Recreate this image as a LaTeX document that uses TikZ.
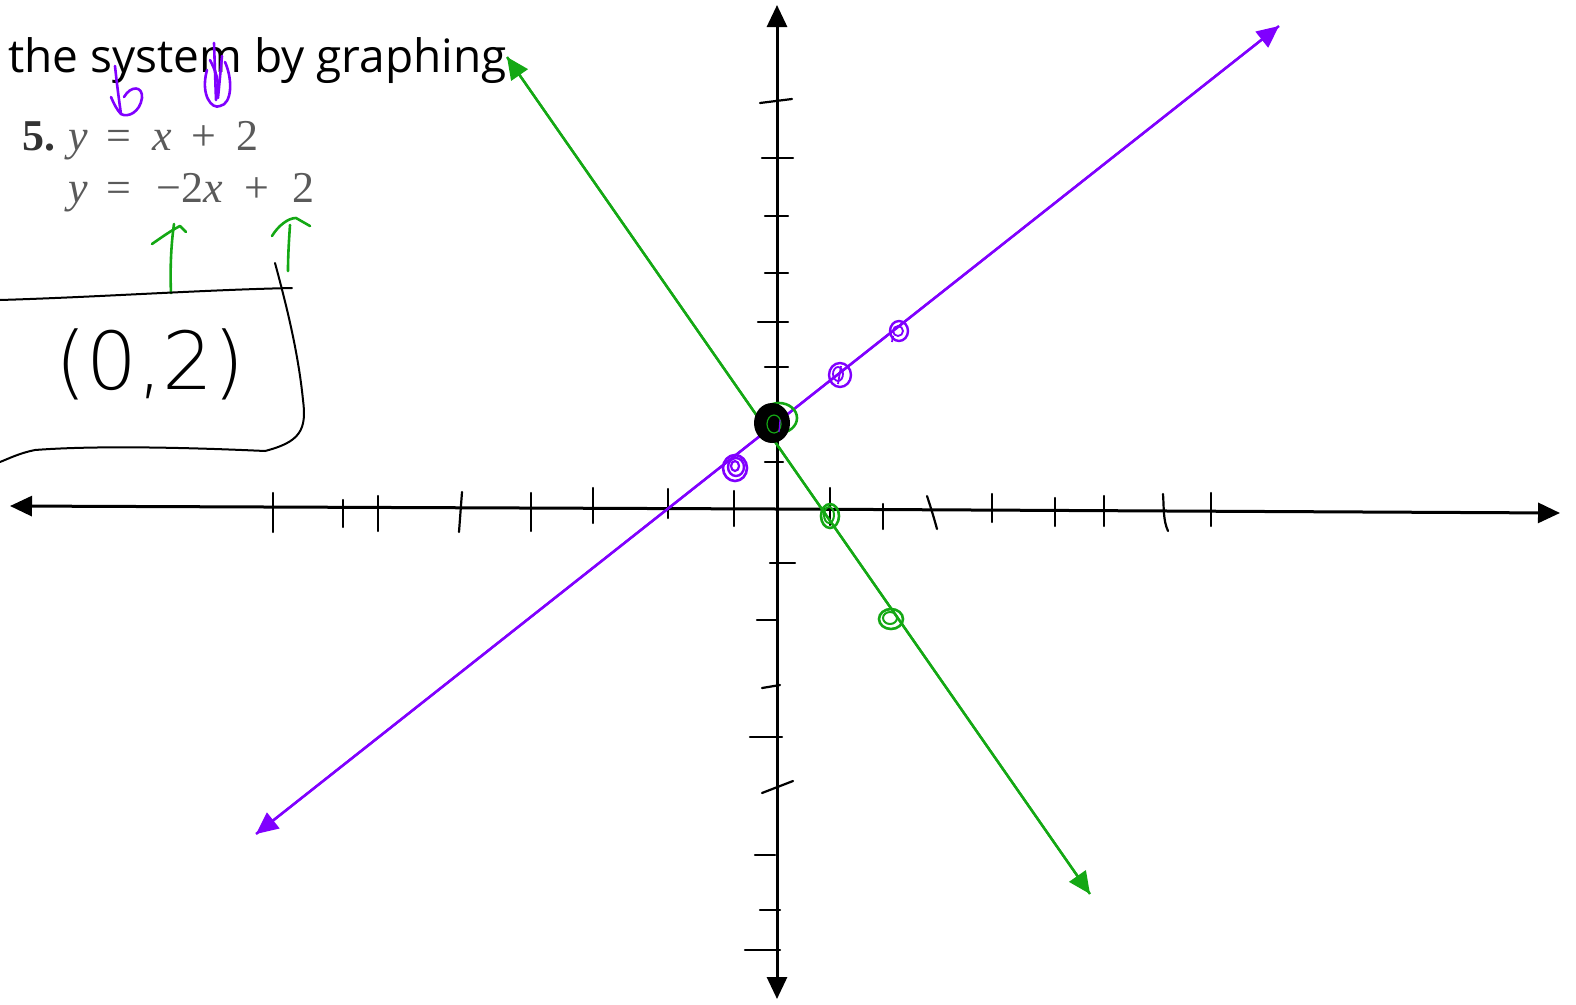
\documentclass[tikz,border=0pt]{standalone}
\usepackage{fontspec}
\setmainfont{Liberation Serif}
\newfontfamily\headfont{Open Sans}
\newfontfamily\handfont{DejaVu Sans ExtraLight}
\usetikzlibrary{arrows.meta}
\definecolor{pur}{HTML}{8000FF}
\definecolor{grn}{HTML}{14A814}
\definecolor{eqgray}{HTML}{5A5A5A}
\tikzset{
  axisline/.style={line width=3pt,black,-{Triangle[length=22pt,width=20pt]}},
  tickmark/.style={line width=2.2pt,black,line cap=round},
  graphline/.style={line width=2.4pt,-{Triangle[length=22pt,width=20pt]}},
  penline/.style={line width=2.6pt,line cap=round,line join=round},
  eqtxt/.style={inner sep=0pt,text=eqgray,font=\fontsize{44}{44}\selectfont}
}
\begin{document}
\begin{tikzpicture}[x=1pt,y=-1pt]
\useasboundingbox[fill=white] (0,0) rectangle (1576,1004);

% axes
\coordinate (xl) at (10,506);
\coordinate (xr) at (1560,513);
\coordinate (yt) at (777,5);
\coordinate (yb) at (777,999);
\coordinate (o) at (777,509);
\draw[axisline] (o) -- (xl);
\draw[axisline] (o) -- (xr);
\draw[axisline] (o) -- (yt);
\draw[axisline] (o) -- (yb);

% x ticks
\foreach \x/\a/\b in {273/493/532,343/500/527,378/496/531,531/493/531,593/488/523,668/489/518,734/491/526,830/488/525,883/504/529,992/494/522,1055/498/526,1104/496/526,1211/493/526}
  \draw[tickmark] (\x,\a) -- (\x,\b);
\draw[tickmark] (462,492) -- (459,532);
\draw[tickmark] (927,496) .. controls (931,508) and (934,518) .. (937,529);
\draw[tickmark] (1163,494) .. controls (1164,508) and (1163,520) .. (1168,531);

% y ticks
\foreach \y/\a/\b in {158/762/793,216/765/788,273/765/788,322/758/788,367/765/788,462/765/783,563/770/795,620/757/777,737/750/782,855/755/775,910/760/780,950/745/780}
  \draw[tickmark] (\a,\y) -- (\b,\y);
\draw[tickmark] (760,103) -- (792,99);
\draw[tickmark] (762,688) -- (780,685);
\draw[tickmark] (762,793) -- (793,781);

% graph lines
\coordinate (gs) at (507,57);
\coordinate (ge) at (1090,894);
\coordinate (ps) at (256,834);
\coordinate (pe) at (1279,26);
\draw[graphline,grn] (ge) -- (gs);
\draw[graphline,grn] (gs) -- (ge);
\draw[graphline,pur] (pe) -- (ps);
\draw[graphline,pur] (ps) -- (pe);

% point marks
\draw[pur,line width=2.6pt] (735,468) ellipse (12pt and 13pt);
\draw[pur,line width=2.4pt] (736,467) ellipse (8pt and 9pt);
\draw[pur,line width=2.2pt] (735,466) ellipse (4pt and 5pt);
\draw[pur,line width=2.4pt] (840,375) ellipse (11pt and 12pt);
\draw[pur,line width=1.8pt] (838,374) ellipse (5pt and 7pt);
\draw[pur,line width=1.8pt] (841,366) -- (838,384);
\draw[pur,line width=2.4pt] (899,331) ellipse (9pt and 10pt);
\draw[pur,line width=1.8pt] (898,331) ellipse (5pt and 5pt);
\draw[pur,line width=1.8pt] (893,336) -- (892,342);
\draw[grn,line width=2.6pt] (830,516) ellipse (9pt and 12pt);
\draw[grn,line width=2pt] (829,515) ellipse (5pt and 8pt);
\draw[grn,line width=2.6pt] (891,619) ellipse (12pt and 10pt);
\draw[grn,line width=2pt] (890,618) ellipse (7pt and 6pt);
\draw[grn,line width=2.6pt] (779,418) ellipse (18pt and 15pt);
\fill[black] (772,423) ellipse (18pt and 20pt);
\draw[grn,line width=1.2pt] (774,424) ellipse (7pt and 9pt);
\draw[pur,line width=1.2pt] (780,420) -- (779,432);

% heading text
\node[anchor=base west,inner sep=0pt,font=\headfont\fontsize{46}{46}\selectfont] (head) at (8,72) {the system by graphing};

% equations
\node[eqtxt,anchor=base west,text=black!80] (n5) at (22,150) {\textbf{5.}};
\node[eqtxt,anchor=base west] (y1) at (68,150) {\textit{y}};
\node[eqtxt,anchor=base west] (e1) at (106,150) {=};
\node[eqtxt,anchor=base west] (x1) at (152,150) {\textit{x}};
\node[eqtxt,anchor=base west] (p1) at (191,150) {+};
\node[eqtxt,anchor=base west] (c1) at (236,150) {2};
\node[eqtxt,anchor=base west] (y2) at (68,202) {\textit{y}};
\node[eqtxt,anchor=base west] (e2) at (106,202) {=};
\node[eqtxt,anchor=base west] (m2) at (156,202) {\textminus 2\textit{x}};
\node[eqtxt,anchor=base west] (p2) at (244,202) {+};
\node[eqtxt,anchor=base west] (c2) at (292,202) {2};

% purple handwritten marks
\draw[pur,penline] (115,66) .. controls (117,85) and (119,100) .. (121,114);
\draw[pur,penline] (111,97) .. controls (114,104) and (117,110) .. (121,114)
  .. controls (128,118) and (140,112) .. (142,98)
  .. controls (143,86) and (131,85) .. (124,97);
\draw[pur,penline] (207,70) .. controls (200,95) and (212,110) .. (220,106)
  .. controls (232,104) and (233,80) .. (225,62);
\draw[pur,penline] (214,43) -- (216,100);
\draw[pur,penline] (222,56) -- (218,98);
\draw[pur,penline] (210,60) .. controls (215,70) and (220,80) .. (217,96);

% green hand arrows
\draw[grn,penline] (171,293) .. controls (170,270) and (171,245) .. (174,224);
\draw[grn,penline] (152,244) .. controls (162,237) and (172,230) .. (180,226) -- (186,232);
\draw[grn,penline] (288,271) .. controls (288,255) and (289,240) .. (290,225);
\draw[grn,penline] (272,236) .. controls (278,226) and (288,218) .. (296,218) -- (310,226);

% black box
\draw[black,penline,line width=2pt] (0,300) .. controls (100,297) and (200,290) .. (292,288);
\draw[black,penline,line width=2pt] (275,263) .. controls (285,300) and (298,350) .. (303,400)
  .. controls (307,430) and (300,442) .. (265,451)
  .. controls (200,448) and (100,445) .. (35,450)
  .. controls (20,453) and (10,458) .. (0,462);
\node[inner sep=0pt,font=\handfont\fontsize{80}{80}\selectfont] (sol) at (150,364) {(0,2)};
\end{tikzpicture}
\end{document}
